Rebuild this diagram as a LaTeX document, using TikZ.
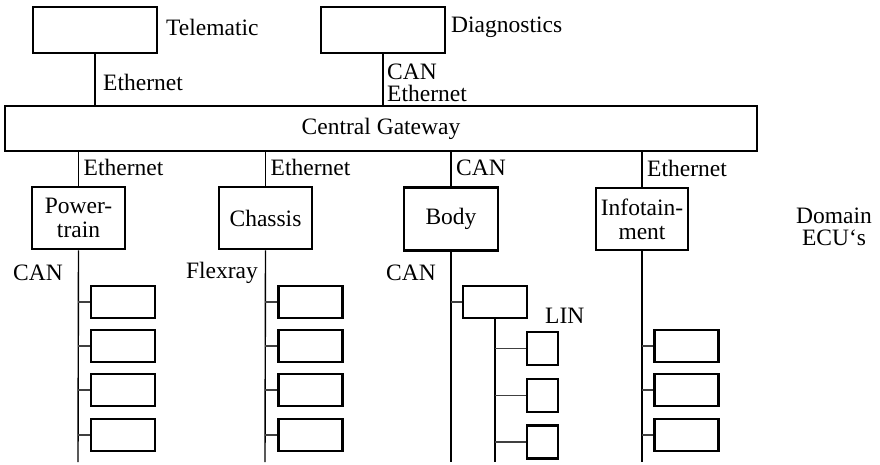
\documentclass[tikz,border=0pt]{standalone}
\usepackage{fontspec}
\setmainfont{Liberation Serif}
\begin{document}
\begin{tikzpicture}[x=1pt,y=-1pt,
  font=\fontsize{23.5}{24}\selectfont,
  ecu/.style={draw, line width=2.8pt, inner sep=0pt, align=center,
              minimum width=#1},
  ecu/.default=93pt,
  subecu/.style={draw, line width=2.1pt, inner sep=0pt,
                 minimum width=64pt, minimum height=32pt},
  linecu/.style={draw, line width=2.1pt, inner sep=0pt,
                 minimum width=31pt, minimum height=33pt},
  bus/.style={line width=1.4pt},
  stub/.style={line width=1.4pt, draw=black!75},
  lbl/.style={inner sep=0pt, align=left}]
\useasboundingbox (0,0) rectangle (880,464);

% top level devices
\node[ecu=124pt, minimum height=46pt] (tel) at (95,30) {};
\node[ecu=124pt, minimum height=46pt] (diag) at (383,30) {};
\node[lbl, anchor=west] (telL) at (166,27) {Telematic};
\node[lbl, anchor=west] (diagL) at (451,27) {Diagnostics};

% central gateway
\node[ecu=752pt, minimum height=45pt] (cgw) at (381,128.5) {Central Gateway};

\draw[bus] (tel.south) -- (tel.south |- cgw.north);
\draw[bus] (diag.south) -- (diag.south |- cgw.north);
\node[lbl, anchor=west] (ethTel) at (103,82) {Ethernet};
\node[lbl, anchor=west] (ethDiag) at (387,83) {CAN\\[-2pt]Ethernet};

% domain controllers
\node[ecu, minimum height=62pt] (pt) at (78.5,218) {Power-\\train};
\node[ecu, minimum height=62pt] (ch) at (265.5,218) {Chassis};
\node[ecu=94pt, minimum height=63pt] (body) at (451,219) {Body};
\node[ecu=92pt, minimum height=62pt] (info) at (642,219) {Infotain-\\ment};
\node[inner sep=0pt, align=center] (dom) at (834,227) {Domain\\[-2pt]ECU‘s};

\foreach \d/\t in {pt/Ethernet, ch/Ethernet, body/CAN, info/Ethernet}{
  \draw[bus] (\d.north) -- (\d.north |- cgw.south);
  \node[lbl, anchor=west] at ([xshift=5pt,yshift=18pt]\d.north) {\t};
}

% lower buses
\coordinate (ptEnd) at (78,462);
\coordinate (chEnd) at (265,462);
\coordinate (bodyEnd) at (451,462);
\coordinate (infoEnd) at (642,462);
\draw[bus] (pt.south) -- (ptEnd);
\draw[bus] (ch.south) -- (chEnd);
\draw[bus] (body.south) -- (bodyEnd);
\draw[bus] (info.south) -- (infoEnd);

\node[lbl, anchor=east] (canPt) at (63,273) {CAN};
\node[lbl, anchor=east] (flex) at (258,273) {Flexray};
\node[lbl, anchor=east] (canBody) at (436,273) {CAN};

% powertrain and chassis ECUs
\foreach \i/\y in {1/302, 2/346, 3/390, 4/435}{
  \node[subecu] (p\i) at (123,\y) {};
  \draw[stub] (ptEnd |- p\i.west) -- (p\i.west);
  \node[subecu] (c\i) at (310.5,\y) {};
  \draw[stub] (chEnd |- c\i.west) -- (c\i.west);
}

% body ECU with LIN sub-bus
\node[subecu] (b1) at (495,302) {};
\draw[stub] (bodyEnd |- b1.west) -- (b1.west);
\coordinate (linEnd) at (495,462);
\draw[bus] (b1.south) -- (linEnd);
\node[lbl, anchor=west] (lin) at (545,316) {LIN};
\foreach \i/\y in {1/348.5, 2/395.5, 3/442}{
  \node[linecu] (l\i) at (542.5,\y) {};
  \draw[stub] (linEnd |- l\i.west) -- (l\i.west);
}

% infotainment ECUs
\foreach \i/\y in {1/346, 2/390, 3/435}{
  \node[subecu] (n\i) at (686.5,\y) {};
  \draw[stub] (infoEnd |- n\i.west) -- (n\i.west);
}
\end{tikzpicture}
\end{document}
